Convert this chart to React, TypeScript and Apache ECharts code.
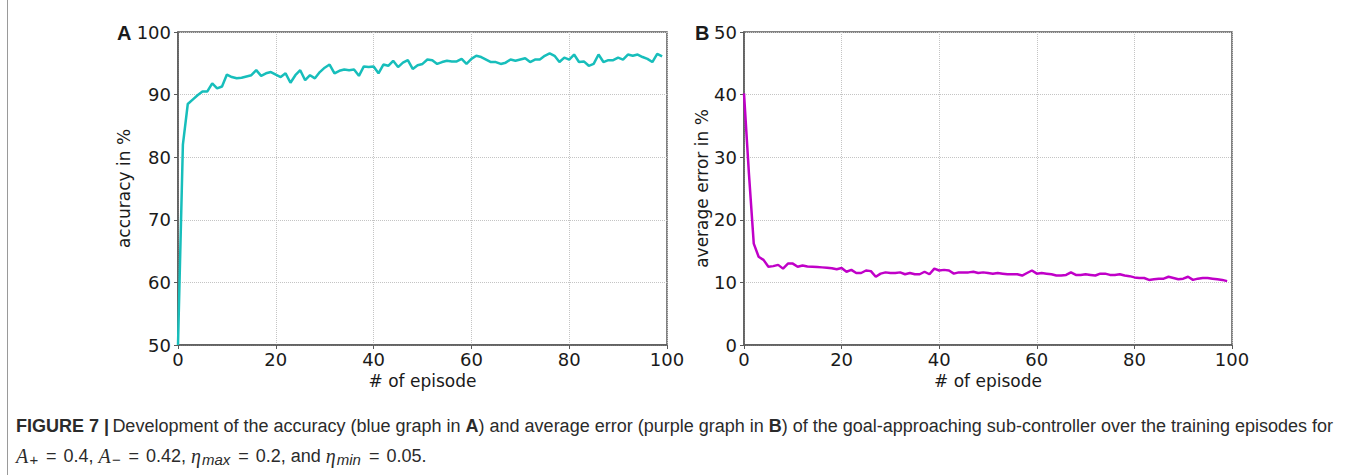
import React, { useEffect, useRef } from "react";
import * as echarts from "echarts";

const episodes: number[] = Array.from({ length: 100 }, (_, i) => i);

const accuracy: number[] = [
  50, 82, 88.5, 89.2, 89.9, 90.5, 90.5, 91.8, 91.0, 91.3,
  93.2, 92.8, 92.6, 92.7, 92.9, 93.1, 93.9, 93.0, 93.4, 93.6,
  93.2, 92.8, 93.4, 91.9, 93.1, 93.9, 92.3, 93.1, 92.6, 93.6,
  94.3, 94.8, 93.4, 93.8, 94.0, 93.9, 94.0, 93.0, 94.5, 94.4,
  94.5, 93.4, 94.8, 94.6, 95.4, 94.4, 95.1, 95.5, 94.1, 94.7,
  94.9, 95.6, 95.5, 94.9, 95.2, 95.4, 95.3, 95.3, 95.7, 94.9,
  95.7, 96.2, 96.0, 95.6, 95.2, 95.2, 94.9, 95.1, 95.6, 95.4,
  95.6, 95.8, 95.2, 95.6, 95.6, 96.2, 96.6, 96.2, 95.2, 95.9,
  95.6, 96.4, 95.2, 95.3, 94.6, 94.9, 96.4, 95.2, 95.5, 95.5,
  95.9, 95.6, 96.4, 96.2, 96.4, 96.0, 95.7, 95.2, 96.5, 96.1,
];

const avgError: number[] = [
  40.2, 27.5, 16.2, 14.1, 13.6, 12.5, 12.6, 12.8, 12.2, 13.0,
  13.0, 12.5, 12.7, 12.55, 12.5, 12.45, 12.4, 12.35, 12.25, 12.1,
  12.3, 11.7, 12.0, 11.5, 11.5, 11.9, 11.8, 10.9, 11.4, 11.6,
  11.5, 11.5, 11.6, 11.3, 11.5, 11.3, 11.3, 11.7, 11.3, 12.2,
  11.9, 12.0, 11.9, 11.4, 11.6, 11.6, 11.6, 11.7, 11.5, 11.6,
  11.5, 11.4, 11.5, 11.4, 11.3, 11.3, 11.3, 11.1, 11.5, 11.9,
  11.4, 11.5, 11.4, 11.3, 11.1, 11.1, 11.2, 11.6, 11.2, 11.2,
  11.3, 11.2, 11.1, 11.4, 11.4, 11.2, 11.2, 11.3, 11.1, 11.0,
  10.8, 10.7, 10.7, 10.4, 10.5, 10.6, 10.6, 10.9, 10.7, 10.5,
  10.6, 10.9, 10.4, 10.6, 10.7, 10.7, 10.6, 10.5, 10.4, 10.2,
];

const xTicks = { min: 0, max: 100, interval: 20 };
const accTicks = { min: 50, max: 100, interval: 10 };
const errTicks = { min: 0, max: 50, interval: 10 };

const tickFont = "DejaVu Sans";
const spine = "#5a5a5a";
const ink = "#1a1a1a";

function xAxisOf(gridIndex: number) {
  return {
    type: "value",
    gridIndex,
    ...xTicks,
    name: "# of episode",
    nameLocation: "middle",
    nameGap: 26,
    nameTextStyle: { fontFamily: tickFont, fontSize: 17, color: ink },
    axisLine: { show: true, lineStyle: { color: spine, width: 1.5 } },
    axisTick: { show: true, length: 4, lineStyle: { color: spine, width: 1 } },
    axisLabel: { fontFamily: tickFont, fontSize: 18, color: ink, margin: 5 },
    splitLine: { show: true, lineStyle: { type: "dotted", color: "#c4c4c4", width: 1 } },
  };
}

function yAxisOf(gridIndex: number, ticks: any, name: string, gap: number) {
  return {
    type: "value",
    gridIndex,
    ...ticks,
    name,
    nameLocation: "middle",
    nameGap: gap,
    nameTextStyle: { fontFamily: tickFont, fontSize: 17, color: ink },
    axisLine: { show: true, lineStyle: { color: spine, width: 1.5 } },
    axisTick: { show: true, length: 4, lineStyle: { color: spine, width: 1 } },
    axisLabel: { fontFamily: tickFont, fontSize: 18, color: ink, margin: 7 },
    splitLine: { show: true, lineStyle: { type: "dotted", color: "#c4c4c4", width: 1 } },
  };
}

export default function App() {
  const ref = useRef<HTMLDivElement>(null);
  useEffect(() => {
    if (!ref.current) return;
    const chart = echarts.init(ref.current, null, { renderer: "svg" });
    const capFont = "Liberation Sans";
    chart.setOption({
      animation: false,
      backgroundColor: "#ffffff",
      grid: [
        { left: 178, right: 679, top: 32, bottom: 130, show: true, borderColor: spine, borderWidth: 1.5, backgroundColor: "transparent" },
        { left: 744, right: 114, top: 32, bottom: 130, show: true, borderColor: spine, borderWidth: 1.5, backgroundColor: "transparent" },
      ],
      xAxis: [xAxisOf(0), xAxisOf(1)],
      yAxis: [
        yAxisOf(0, accTicks, "accuracy in %", 40),
        yAxisOf(1, errTicks, "average error in %", 32),
      ],
      series: [
        {
          type: "line",
          xAxisIndex: 0,
          yAxisIndex: 0,
          data: episodes.map((e, i) => [e, accuracy[i]]),
          showSymbol: false,
          clip: true,
          lineStyle: { color: "#17bebb", width: 2.5 },
          itemStyle: { color: "#17bebb" },
        },
        {
          type: "line",
          xAxisIndex: 1,
          yAxisIndex: 1,
          data: episodes.map((e, i) => [e, avgError[i]]),
          showSymbol: false,
          clip: true,
          lineStyle: { color: "#c000c8", width: 2.5 },
          itemStyle: { color: "#c000c8" },
        },
      ],
      graphic: [
        { type: "line", shape: { x1: 7.5, y1: 0, x2: 7.5, y2: 475 }, style: { stroke: "#9a9a9a", lineWidth: 1 } },
        { type: "text", left: 117, top: 23, style: { text: "A", font: `bold 20px '${capFont}'`, fill: ink } },
        { type: "text", left: 695, top: 23, style: { text: "B", font: `bold 20px '${capFont}'`, fill: ink } },
        {
          type: "text",
          left: 16,
          top: 417,
          style: {
            text:
              "{b|FIGURE 7 |} {n|Development of the accuracy (blue graph in }{b|A}{n|) and average error (purple graph in }{b|B}{n|) of the goal-approaching sub-controller over the training episodes for}",
            rich: {
              b: { fontFamily: capFont, fontWeight: "bold", fontSize: 18, fill: "#2b2b2b", lineHeight: 22 },
              n: { fontFamily: capFont, fontSize: 18, fill: "#2b2b2b", lineHeight: 22 },
            },
          },
        },
        {
          type: "text",
          left: 16,
          top: 446,
          style: {
            text:
              "{i|A}{s|+}{e|=}{n|0.4, }{i|A}{s|−}{e|=}{n|0.42, }{i|η}{s|max}{e|=}{n|0.2, and }{i|η}{s|min}{e|=}{n|0.05.}",
            rich: {
              i: { fontFamily: "Liberation Serif", fontStyle: "italic", fontSize: 20, fill: "#2b2b2b", lineHeight: 22 },
              s: { fontFamily: capFont, fontStyle: "italic", fontSize: 15, fill: "#2b2b2b", lineHeight: 13, verticalAlign: "bottom", padding: [0, 1, 0, 1] },
              e: { fontFamily: capFont, fontSize: 18, fill: "#2b2b2b", lineHeight: 22, padding: [0, 7, 0, 7] },
              n: { fontFamily: capFont, fontSize: 18, fill: "#2b2b2b", lineHeight: 22 },
            },
          },
        },
      ],
    });
    return () => chart.dispose();
  }, []);
  return (
    <div
      ref={ref}
      style={{ position: "fixed", left: 0, top: 0, width: 1346, height: 475, background: "#fff" }}
    />
  );
}
